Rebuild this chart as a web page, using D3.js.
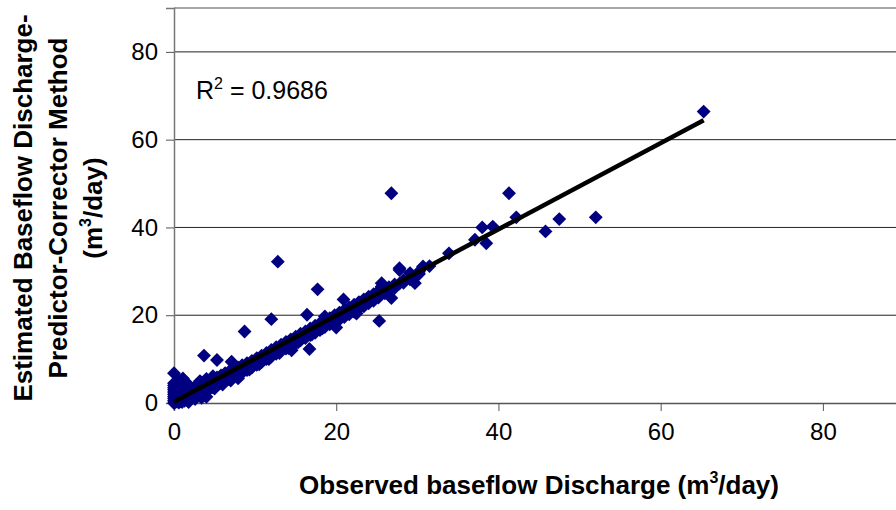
<!DOCTYPE html>
<html>
<head>
<meta charset="utf-8">
<script src="https://cdn.jsdelivr.net/npm/d3@7"></script>
<style>
  body { margin: 0; background: #fff; }
  svg { display: block; font-family: "Liberation Sans", Arial, sans-serif; }
</style>
</head>
<body>
<script>
// observed vs estimated baseflow discharge (m3/day)
var observed = [
  0,0,0,0,0,0,0,0,0,0,0,
  0.2,0.2,0.2,0.2, 0.4,0.4,0.4,0.4,0.4, 0.6,0.6,0.6,0.6,0.6, 0.8,0.8,0.8,0.8,
  1.0,1.0,1.0,1.0,1.0, 1.3,1.3,1.3,1.3, 1.6,1.6,1.6,1.6, 2.0,2.0,2.0,2.0,
  2.4,2.4,2.4, 2.8,2.8,2.8,2.8, 3.2,3.2,3.2,3.2, 3.6,3.6,3.6,3.7,
  4.0,4.0,4.0,4.0,4.0, 4.4,4.4,4.4, 4.8,4.8,4.8,4.8, 5.3,5.3,5.3,5.3,
  5.8,5.8,5.8, 6.3,6.3,6.3, 6.8,6.8,6.8, 7.1, 7.3,7.3,7.3, 7.9,7.9,7.9,7.9,
  8.4,8.4,8.4, 8.7, 9.0,9.0,9.0, 9.6,9.6,9.6, 10.2,10.2,10.2, 10.8,10.8,10.8,
  11.4,11.4,11.4, 12.0,12.0,12.0,12.0, 12.6,12.6,12.6, 12.8, 13.2,13.2,13.2,
  13.8,13.8,13.8, 14.4,14.4,14.4,14.5, 15.0,15.0,15.0, 15.6,15.6,15.6,
  16.2,16.2,16.2, 16.4, 16.7, 16.8,16.8,16.8, 17.4,17.4,17.4, 17.7,
  18.0,18.0,18.0, 18.6,18.6,18.6, 19.2,19.2,19.2, 19.8,19.8,19.8, 20.0,
  20.4,20.4,20.4, 20.9, 21.0,21.0,21.0, 21.6,21.6,21.6, 22.2,22.2,22.2, 22.5,
  22.8,22.8,22.8, 23.4,23.4,23.4, 24.0,24.0,24.0, 24.6,24.6,24.6,
  25.2,25.2,25.2, 25.3, 25.6,25.6, 26.0,26.0, 26.5,26.5, 26.8,26.8,
  27.2,27.2, 27.8,27.8,27.8, 28.3,28.3, 29.1,29.1, 29.7,29.7, 30.2,30.2,
  30.7, 31.5, 33.9, 37.1, 38.0, 38.5, 39.3, 41.3, 42.2, 45.8, 47.5, 52.0, 65.3,
  5.0, 6.0, 7.0, 8.1, 9.3, 10.5, 11.7, 13.0, 14.1, 15.3, 17.0, 18.3, 19.5,
  1.8, 2.6, 3.4, 0.5, 1.1
];
var estimated = [
  0,0.5,1.0,1.5,2.0,2.5,3.0,3.5,4.0,4.5,6.8,
  0.2,1.2,2.4,3.1, 0.3,0.9,1.8,2.7,4.2, 0.1,0.6,1.4,2.2,3.6, 0.4,1.1,2.0,3.0,
  0.2,0.8,1.5,2.6,4.8, 0.5,1.2,2.0,3.3, 0.7,1.5,2.3,4.5, 1.0,1.8,2.6,3.4,
  1.3,2.2,3.0, 1.6,2.5,3.5,4.1, 2.0,2.9,3.8,5.0, 2.4,3.3,4.2,10.8,
  1.4,2.8,3.7,4.6,5.5, 3.2,4.1,5.0, 3.6,4.5,5.4,6.1, 4.0,5.0,5.8,9.8,
  4.5,5.5,6.3, 5.0,5.9,6.8, 5.4,6.4,7.2, 9.4, 5.9,6.9,7.6, 5.6,6.5,7.4,8.1,
  7.0,7.9,8.6, 16.3, 7.5,8.4,9.1, 8.1,9.0,9.6, 8.7,9.6,10.2, 9.3,10.2,10.8,
  10.0,10.8,11.4, 10.6,11.4,12.1,19.1, 11.2,12.0,12.7, 32.2, 11.9,12.6,13.3,
  12.4,13.2,13.9, 13.0,13.8,14.5,12.0, 13.6,14.5,15.1, 14.3,15.1,15.8,
  14.8,15.7,16.3, 20.1, 12.3, 15.5,16.3,17.0, 16.0,16.9,17.6, 25.9,
  16.6,17.5,18.2, 17.3,18.1,19.7, 17.9,18.7,19.3, 18.4,19.3,20.0, 17.2,
  19.0,19.9,20.6, 23.6, 19.6,20.5,21.2, 20.2,21.1,21.8, 20.8,21.7,22.4, 20.4,
  21.5,22.3,23.0, 22.0,22.9,23.6, 22.7,23.5,24.2, 23.3,24.1,24.8,
  24.0,24.7,25.5, 18.7, 26.5,27.3, 25.0,25.8, 25.6,26.4, 23.9,47.8,
  26.2,27.0, 30.3,30.7,27.2, 27.4,28.0, 29.6,28.2, 28.8,27.3, 29.4,29.9,
  31.1, 31.2, 34.1, 37.2, 40.0, 36.4, 40.2, 47.8, 42.3, 39.1, 41.9, 42.3, 66.4,
  3.3, 4.2, 5.1, 6.3, 7.6, 8.8, 10.0, 11.4, 12.5, 13.8, 15.6, 17.0, 18.2,
  0.2, 0.9, 1.2, 5.3, 5.6
];
var xTicks = [0, 20, 40, 60, 80];
var yTicks = [0, 20, 40, 60, 80];
var trendSlope = 0.982;
var trendIntercept = 0.3;
var rSquared = "0.9686";

var width = 896, height = 510;
var margin = {left: 174, top: 8, right: -8, bottom: 107};

var svg = d3.select("body").append("svg")
  .attr("width", width).attr("height", height);

var x = d3.scaleLinear().domain([0, 90]).range([margin.left, width - margin.right]);
var y = d3.scaleLinear().domain([0, 90]).range([height - margin.bottom, margin.top]);

// gridlines
svg.append("g").selectAll("line")
  .data(yTicks.filter(function(d) { return d > 0; }))
  .enter().append("line")
    .attr("x1", x(0)).attr("x2", x(90))
    .attr("y1", function(d) { return y(d); })
    .attr("y2", function(d) { return y(d); })
    .attr("stroke", "#222").attr("stroke-width", 1);

// top border
svg.append("line")
  .attr("x1", x(0)).attr("x2", x(90))
  .attr("y1", y(90)).attr("y2", y(90))
  .attr("stroke", "#888").attr("stroke-width", 1.5);

// axes
var xAxis = d3.axisBottom(x).tickValues(xTicks).tickSize(8).tickPadding(12);
var yAxis = d3.axisLeft(y).tickValues(yTicks).tickSize(8).tickPadding(8);

var gx = svg.append("g").attr("transform", "translate(0," + y(0) + ")").call(xAxis);
var gy = svg.append("g").attr("transform", "translate(" + x(0) + ",0)").call(yAxis);

[gx, gy].forEach(function(g) {
  g.select(".domain").attr("stroke", "#777").attr("stroke-width", 1.5);
  g.selectAll(".tick line").attr("stroke", "#555");
  g.selectAll(".tick text").attr("fill", "#000")
    .style("font-size", "24px").style("font-family", "'Liberation Sans', Arial, sans-serif");
});
gx.select(".domain").attr("stroke", "#555");

// points
var pts = observed.map(function(d, i) { return [d, estimated[i]]; });
svg.append("g").selectAll("path")
  .data(pts)
  .enter().append("path")
    .attr("d", d3.symbol(d3.symbolSquare, 96))
    .attr("transform", function(d) {
      return "translate(" + x(d[0]) + "," + y(d[1]) + ") rotate(45)";
    })
    .attr("fill", "#000080");

// linear trendline
var xMax = d3.max(observed);
svg.append("line")
  .attr("x1", x(0)).attr("y1", y(trendIntercept))
  .attr("x2", x(xMax)).attr("y2", y(trendIntercept + trendSlope * xMax))
  .attr("stroke", "#000").attr("stroke-width", 4.5);

// R squared label
var r2 = svg.append("text")
  .attr("x", 196).attr("y", 99)
  .style("font-size", "25px").attr("fill", "#000");
r2.append("tspan").text("R");
r2.append("tspan").attr("dy", -10).style("font-size", "16px").text("2");
r2.append("tspan").attr("dy", 10).text(" = " + rSquared);

// x axis title
var xt = svg.append("text")
  .attr("x", 539).attr("y", 494)
  .attr("text-anchor", "middle")
  .style("font-size", "26px").style("font-weight", "bold");
xt.append("tspan").text("Observed baseflow Discharge (m");
xt.append("tspan").attr("dy", -11).style("font-size", "16px").text("3");
xt.append("tspan").attr("dy", 11).text("/day)");

// y axis title, three lines
var yt = svg.append("text")
  .attr("transform", "translate(0,208) rotate(-90)")
  .attr("text-anchor", "middle")
  .style("font-size", "26px").style("font-weight", "bold");
yt.append("tspan").attr("x", 0).attr("y", 32).text("Estimated Baseflow Discharge-");
yt.append("tspan").attr("x", 0).attr("y", 67).text("Predictor-Corrector Method");

var t3 = svg.append("text")
  .attr("transform", "translate(0,208) rotate(-90)")
  .attr("text-anchor", "middle").attr("y", 102)
  .style("font-size", "26px").style("font-weight", "bold");
t3.append("tspan").text("(m");
t3.append("tspan").attr("dy", -11).style("font-size", "16px").text("3");
t3.append("tspan").attr("dy", 11).text("/day)");
</script>
</body>
</html>
